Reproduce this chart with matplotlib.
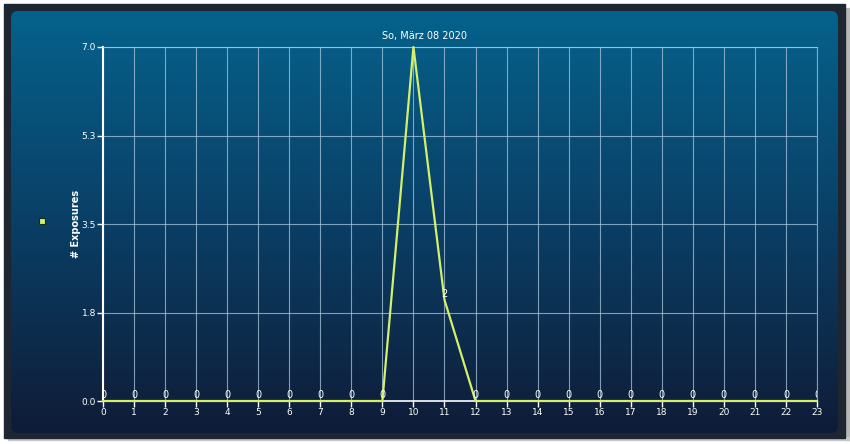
import numpy as np
import matplotlib.pyplot as plt
from matplotlib.patches import FancyBboxPatch, Rectangle
from matplotlib.lines import Line2D
from matplotlib.colors import LinearSegmentedColormap

# data: exposures per hour of the day
hours = list(range(24))
exposures = [0, 0, 0, 0, 0, 0, 0, 0, 0, 0, 7, 2, 0, 0, 0, 0, 0, 0, 0, 0, 0, 0, 0, 0]
y_ticks = [0.0, 1.75, 3.5, 5.25, 7.0]
y_tick_labels = ["0.0", "1.8", "3.5", "5.3", "7.0"]
title = "So, März 08 2020"
y_label = "# Exposures"

line_col = '#d4ef6a'
W, H = 850, 444
y_max = 7

fig = plt.figure(figsize=(W / 100, H / 100), dpi=100)
fig.patch.set_facecolor('white')

# background panel with gradient
bg = fig.add_axes([0, 0, 1, 1])
bg.set_xlim(0, W)
bg.set_ylim(H, 0)
bg.axis('off')
bg.add_patch(Rectangle((846, 8), 3, 432, color='#b8b8b8', zorder=0))
bg.add_patch(Rectangle((8, 437), 841, 3, color='#c8c8c8', zorder=0))
bg.add_patch(Rectangle((4, 4), 841, 434, color='#1d2631', zorder=1))
panel = FancyBboxPatch((11, 11), 827, 422, boxstyle='round,pad=0,rounding_size=7',
                       facecolor='none', edgecolor='none', zorder=2)
bg.add_patch(panel)
cmap = LinearSegmentedColormap.from_list('g', ['#05628c', '#0a3f66', '#0f1c37'])
grad = np.linspace(0, 1, 256).reshape(-1, 1)
im = bg.imshow(grad, cmap=cmap, extent=(11, 838, 433, 11), aspect='auto', zorder=2)
im.set_clip_path(panel)

ax = fig.add_axes([103 / W, 1 - 401 / H, (817 - 103) / W, (401 - 47) / H])
ax.set_facecolor('none')
ax.plot(hours, exposures, color=line_col, lw=1.6, zorder=3, clip_on=False)
# value labels; the one at the top edge is cut off in the original
for h, v in zip(hours, exposures):
    if v >= y_max:
        continue
    ax.annotate(str(v), (h, v), xytext=(0, 0.5), textcoords='offset points',
                ha='center', va='bottom', color='white', fontsize=7, clip_on=True, zorder=4)

ax.set_xlim(0, 23)
ax.set_ylim(0, y_max)
ax.set_xticks(hours)
ax.set_yticks(y_ticks)
ax.set_yticklabels(y_tick_labels)
ax.grid(True, color='#a9c6dc', lw=0.8, alpha=0.75)
ax.tick_params(colors='white', labelsize=6.5, length=4, width=1, pad=1)
for s in ['top', 'right']:
    ax.spines[s].set_color('#a9c6dc')
    ax.spines[s].set_linewidth(0.8)
    ax.spines[s].set_alpha(0.75)
ax.spines['left'].set_color('white')
ax.spines['left'].set_linewidth(1.5)
ax.spines['bottom'].set_color('white')
ax.spines['bottom'].set_linewidth(1.2)
ax.set_ylabel(y_label, color='white', fontsize=7, fontweight='bold')
ax.yaxis.set_label_coords(-22 / 714, 0.5)
ax.set_title(title, color='white', fontsize=7, pad=6, x=(425 - 103) / 714)

handle = Line2D([], [], marker='s', markersize=5, color='none',
                markerfacecolor=line_col, markeredgecolor='#1a2a1a', markeredgewidth=0.8)
fig.legend(handles=[handle], labels=[''], loc='center', bbox_to_anchor=(42 / W, 1 - 222 / H),
           frameon=False, handlelength=0.6, handletextpad=0, borderpad=0)

fig.savefig('out.png', dpi=100)
